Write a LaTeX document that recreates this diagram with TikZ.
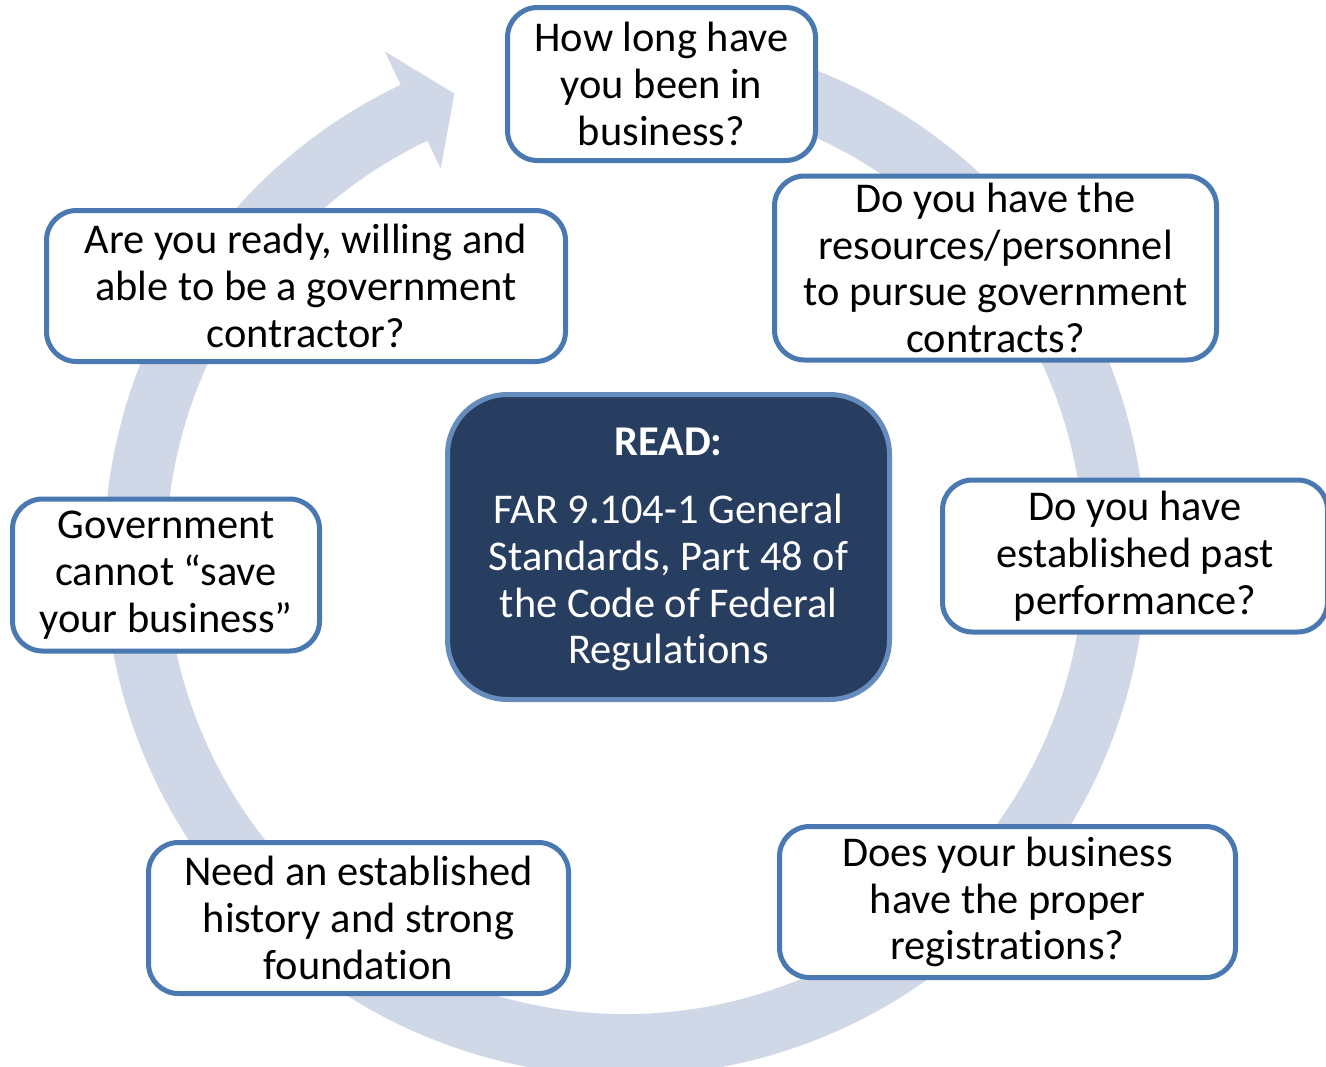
\documentclass[tikz,border=0pt]{standalone}
\usepackage{fontspec}
\setmainfont{Carlito}[Ligatures=NoCommon]
\usetikzlibrary{positioning}
\definecolor{ringblue}{RGB}{208,216,232}
\definecolor{edgeblue}{RGB}{74,120,176}
\definecolor{navyblue}{RGB}{39,62,96}

\begin{document}
\begin{tikzpicture}[x=0.5pt, y=0.5pt,
  qbox/.style={draw=edgeblue, line width=2.5pt, fill=white, rounded corners=15pt,
    align=center, inner sep=0pt, font=\fontsize{21.2}{23.4}\selectfont},
  readbox/.style={qbox, draw=edgeblue!85, fill=navyblue, text=white, rounded corners=30pt}]
  \useasboundingbox (0,0) rectangle (1326,-1066);
  \clip (0,0) rectangle (1326,-1066);

  % circular arrow behind the boxes
  \begin{scope}[shift={(625,-555)}]
    \fill[ringblue] (100:521) arc[start angle=100, end angle=-244.5, radius=521]
      -- (-244.5:558) -- (-249.7:492) -- (-244.5:428) -- (-244.5:459)
      arc[start angle=-244.5, end angle=100, radius=459] -- cycle;
  \end{scope}

  \node[qbox, minimum width=154pt, minimum height=76.5pt] (howlong) at (661.5,-84) {How long have\\you been in\\business?};
  \node[qbox, minimum width=221pt, minimum height=92pt] (resources) at (995.5,-268) {Do you have the\\resources/personnel\\to pursue government\\contracts?};
  \node[qbox, minimum width=192.5pt, minimum height=76pt] (pastperf) at (1135,-556) {Do you have\\established past\\performance?};
  \node[qbox, minimum width=228pt, minimum height=75.5pt] (registr) at (1007.5,-902) {Does your business\\have the proper\\registrations?};
  \node[qbox, minimum width=210pt, minimum height=75.5pt] (history) at (358.5,-918) {Need an established\\history and strong\\foundation};
  \node[qbox, minimum width=153.5pt, minimum height=76pt] (cannot) at (166,-575) {Government\\cannot “save\\your business”};
  \node[qbox, minimum width=259.5pt, minimum height=75.5pt] (ready) at (306,-286) {Are you ready, willing and\\able to be a government\\contractor?};

  \node[readbox, minimum width=221pt, minimum height=152.5pt] (read) at (668.5,-547) {};
  \node[text=white, font=\fontsize{21.2}{23.4}\selectfont\bfseries] (readhead) at (668.5,-442) {READ:};
  \node[text=white, align=center, font=\fontsize{21.2}{23.4}\selectfont, below=12pt of readhead] (readtext) {FAR 9.104-1 General\\Standards, Part 48 of\\the Code of Federal\\Regulations};
\end{tikzpicture}
\end{document}
